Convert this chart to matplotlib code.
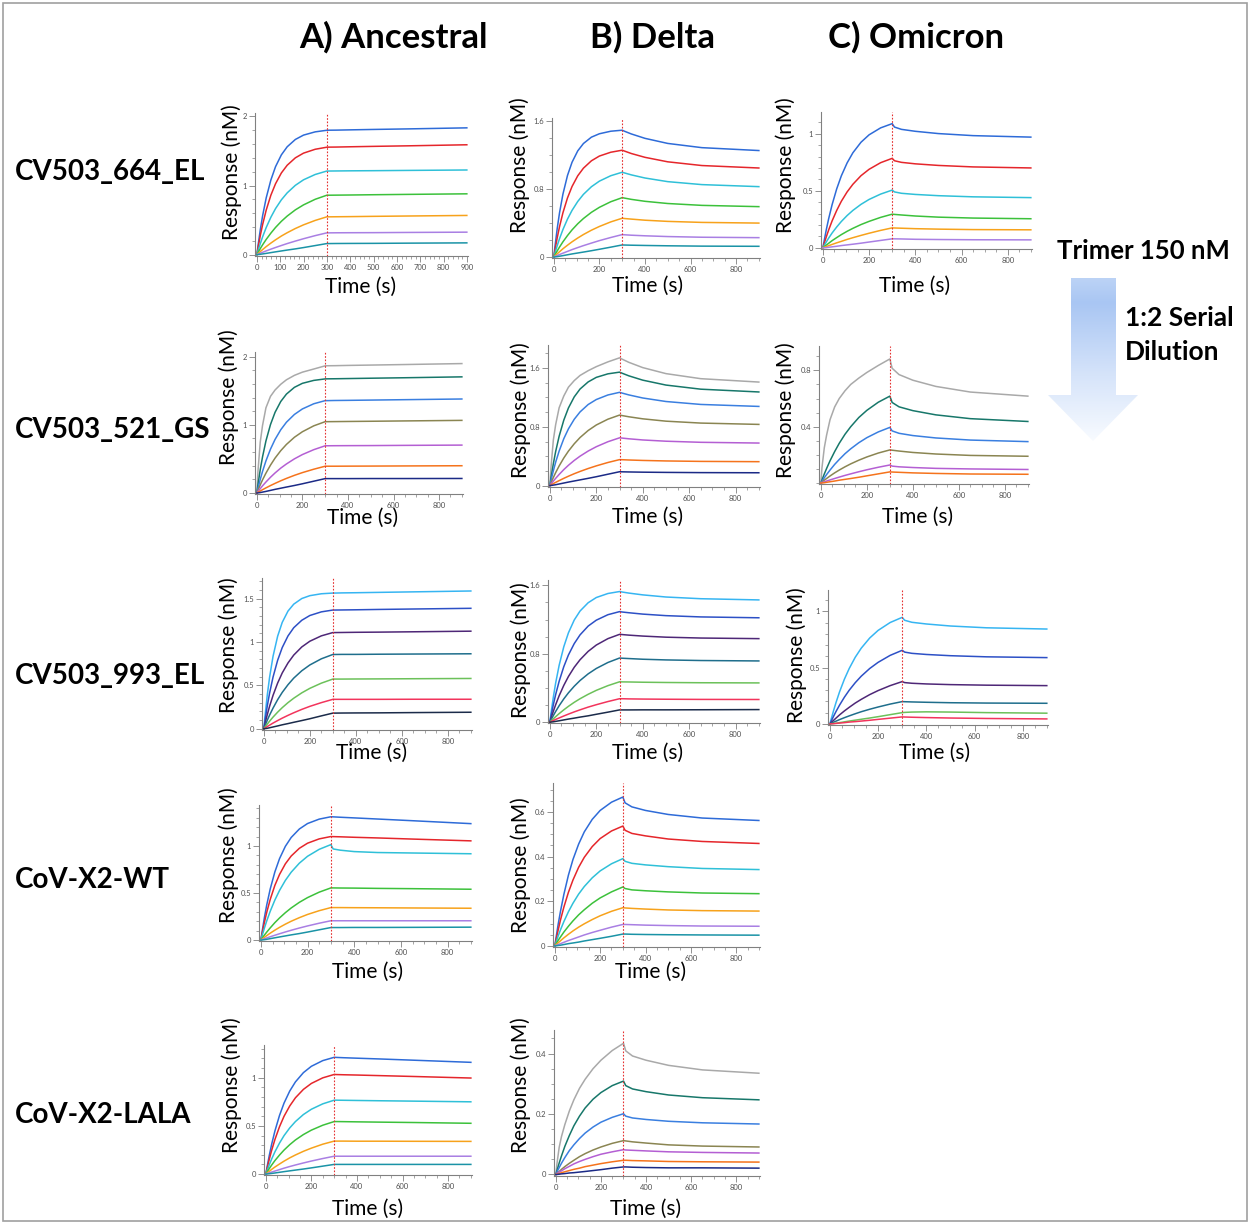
import numpy as np
import matplotlib
matplotlib.use("Agg")
import matplotlib.pyplot as plt
from matplotlib.patches import Polygon, Rectangle
from matplotlib.colors import LinearSegmentedColormap
from matplotlib.ticker import MultipleLocator, FixedLocator, FuncFormatter

plt.rcParams['font.family'] = ['Lato', 'DejaVu Sans']

# %% data  (response in nM)
# association 0-300 s, dissociation 300-900 s
T = [0, 5, 15, 25, 40, 60, 80, 105, 130, 165, 200, 250, 300, 310, 340, 400, 500, 650, 900]

variants = ["A) Ancestral", "B) Delta", "C) Omicron"]
antibodies = ["CV503_664_EL", "CV503_521_GS", "CV503_993_EL", "CoV-X2-WT", "CoV-X2-LALA"]

pal1 = ['#2e6bd8', '#e5262b', '#2fc0d8', '#3cc13b', '#f7a21b', '#a97fe3', '#1a93a6']
pal2 = ['#a9a9a9', '#17776a', '#3a7fe0', '#8a8552', '#b45fd3', '#f5731c', '#1b2a86']
pal3 = ['#36b5f2', '#2d50c6', '#4e2777', '#1f6e8c', '#6cc15a', '#f2345c', '#1b2b4a']

anc_664 = [
    [0, .131, .367, .569, .821, 1.08, 1.273, 1.444, 1.561, 1.667, 1.73, 1.777, 1.80, 1.801, 1.802, 1.806, 1.812, 1.82, 1.835],
    [0, .10, .281, .44, .644, .86, 1.026, 1.182, 1.294, 1.401, 1.469, 1.525, 1.555, 1.556, 1.557, 1.561, 1.567, 1.575, 1.59],
    [0, .057, .163, .261, .392, .541, .666, .793, .894, 1.003, 1.083, 1.16, 1.21, 1.21, 1.211, 1.213, 1.215, 1.219, 1.225],
    [0, .03, .089, .144, .22, .311, .393, .482, .558, .648, .72, .801, .86, .86, .861, .863, .867, .872, .88],
    [0, .015, .045, .074, .116, .167, .214, .269, .317, .378, .431, .495, .547, .547, .548, .55, .554, .559, .567],
    [0, .007, .021, .034, .054, .079, .103, .132, .16, .196, .23, .275, .315, .315, .316, .317, .318, .321, .325],
    [0, .001, .005, .01, .018, .029, .04, .053, .066, .083, .102, .131, .16, .16, .161, .162, .163, .166, .17]]
dlt_664 = [
    [0, .123, .338, .521, .742, .962, 1.118, 1.252, 1.339, 1.414, 1.454, 1.484, 1.496, 1.484, 1.452, 1.40, 1.34, 1.29, 1.256],
    [0, .081, .228, .357, .522, .697, .832, .958, 1.048, 1.135, 1.191, 1.236, 1.26, 1.25, 1.221, 1.176, 1.123, 1.079, 1.05],
    [0, .047, .135, .216, .324, .447, .55, .655, .739, .829, .895, .959, 1.0, .992, .969, .932, .889, .854, .83],
    [0, .025, .072, .117, .179, .253, .32, .392, .454, .527, .586, .652, .70, .695, .68, .657, .631, .609, .594],
    [0, .013, .038, .062, .097, .139, .179, .224, .265, .316, .36, .414, .457, .454, .447, .434, .42, .408, .40],
    [0, .006, .017, .029, .045, .066, .087, .111, .134, .164, .193, .23, .264, .262, .257, .25, .241, .233, .228],
    [0, .001, .004, .009, .016, .026, .036, .047, .058, .074, .091, .116, .142, .141, .139, .136, .132, .128, .126]]
omi_664 = [
    [0, .055, .16, .254, .378, .517, .631, .744, .833, .925, .99, 1.051, 1.088, 1.058, 1.038, 1.021, 1.001, .983, .97],
    [0, .034, .097, .156, .236, .328, .408, .49, .557, .632, .688, .746, .784, .763, .749, .736, .722, .709, .70],
    [0, .018, .052, .085, .13, .183, .231, .283, .328, .381, .424, .471, .506, .49, .478, .468, .457, .447, .44],
    [0, .008, .024, .04, .063, .09, .116, .145, .171, .204, .232, .267, .295, .293, .288, .279, .269, .261, .255],
    [0, .004, .012, .019, .03, .044, .057, .074, .089, .109, .128, .153, .175, .174, .172, .168, .164, .16, .158],
    [0, 0, .002, .005, .009, .014, .02, .026, .032, .041, .051, .065, .079, .079, .078, .075, .073, .071, .07]]

anc_521 = [
    [0, .317, .747, .99, 1.251, 1.419, 1.512, 1.596, 1.662, 1.727, 1.774, 1.82, 1.867, 1.868, 1.869, 1.873, 1.878, 1.886, 1.90],
    [0, .122, .342, .529, .764, 1.005, 1.184, 1.343, 1.452, 1.551, 1.61, 1.653, 1.675, 1.676, 1.677, 1.68, 1.685, 1.692, 1.705],
    [0, .069, .199, .316, .471, .644, .786, .928, 1.039, 1.153, 1.234, 1.31, 1.356, 1.356, 1.358, 1.36, 1.364, 1.37, 1.38],
    [0, .041, .119, .192, .291, .409, .512, .621, .713, .818, .899, .986, 1.047, 1.047, 1.048, 1.05, 1.053, 1.058, 1.066],
    [0, .022, .064, .105, .161, .231, .294, .365, .426, .501, .564, .636, .693, .693, .694, .695, .696, .699, .703],
    [0, .01, .029, .048, .075, .109, .141, .179, .214, .259, .299, .349, .393, .393, .393, .394, .395, .397, .40],
    [0, .001, .006, .013, .023, .038, .053, .07, .087, .11, .135, .173, .211, .211, .211, .211, .212, .212, .213]]
dlt_521 = [
    [0, .25, .62, .83, 1.06, 1.22, 1.34, 1.43, 1.50, 1.565, 1.62, 1.685, 1.74, 1.724, 1.679, 1.607, 1.525, 1.456, 1.41],
    [0, .107, .297, .464, .672, .891, 1.057, 1.208, 1.315, 1.412, 1.474, 1.522, 1.545, 1.532, 1.495, 1.436, 1.369, 1.313, 1.275],
    [0, .071, .201, .318, .47, .638, .772, .903, 1.003, 1.104, 1.172, 1.234, 1.27, 1.261, 1.235, 1.193, 1.145, 1.105, 1.078],
    [0, .037, .109, .176, .267, .375, .469, .569, .654, .75, .825, .904, .96, .954, .937, .909, .877, .851, .833],
    [0, .021, .06, .098, .151, .217, .276, .342, .40, .47, .529, .597, .65, .647, .637, .621, .604, .589, .579],
    [0, .009, .026, .043, .067, .098, .127, .161, .192, .232, .268, .314, .353, .352, .348, .342, .335, .329, .325],
    [0, .001, .006, .011, .021, .034, .047, .062, .077, .098, .12, .154, .188, .187, .185, .182, .179, .176, .174]]
omi_521 = [
    [0, .11, .25, .34, .45, .54, .60, .655, .70, .745, .785, .835, .881, .815, .77, .73, .686, .646, .617],
    [0, .022, .064, .103, .158, .223, .282, .346, .40, .465, .516, .574, .617, .572, .541, .514, .484, .457, .437],
    [0, .013, .037, .06, .092, .132, .167, .208, .243, .286, .322, .363, .395, .37, .353, .337, .32, .305, .294],
    [0, .007, .02, .032, .05, .072, .092, .115, .136, .162, .185, .213, .235, .233, .227, .217, .206, .196, .19],
    [0, .003, .008, .014, .022, .032, .042, .054, .065, .08, .094, .112, .128, .12, .115, .11, .104, .10, .096],
    [0, 0, .002, .005, .009, .014, .02, .026, .032, .041, .051, .065, .079, .078, .076, .072, .068, .064, .062]]

anc_993 = [
    [0, .143, .39, .594, .836, 1.068, 1.228, 1.358, 1.438, 1.503, 1.536, 1.558, 1.566, 1.566, 1.568, 1.57, 1.574, 1.58, 1.59],
    [0, .095, .263, .411, .596, .79, .937, 1.071, 1.166, 1.252, 1.307, 1.349, 1.37, 1.37, 1.371, 1.373, 1.377, 1.382, 1.39],
    [0, .057, .163, .259, .385, .527, .644, .759, .85, .944, 1.01, 1.072, 1.11, 1.11, 1.111, 1.113, 1.115, 1.119, 1.126],
    [0, .033, .098, .157, .238, .335, .419, .508, .584, .669, .736, .807, .857, .857, .858, .858, .86, .862, .865],
    [0, .018, .053, .087, .134, .191, .243, .301, .352, .414, .466, .526, .573, .573, .573, .574, .575, .577, .58],
    [0, .008, .025, .041, .065, .094, .122, .154, .184, .223, .258, .301, .339, .339, .339, .339, .339, .34, .34],
    [0, .001, .005, .011, .02, .032, .045, .059, .074, .094, .115, .148, .18, .18, .181, .182, .183, .186, .19]]
dlt_993 = [
    [0, .105, .293, .458, .665, .882, 1.045, 1.195, 1.30, 1.397, 1.458, 1.505, 1.528, 1.523, 1.51, 1.489, 1.464, 1.444, 1.43],
    [0, .072, .204, .323, .478, .649, .786, .919, 1.021, 1.124, 1.193, 1.257, 1.293, 1.289, 1.28, 1.264, 1.246, 1.231, 1.221],
    [0, .044, .127, .204, .309, .43, .534, .642, .73, .828, .902, .977, 1.027, 1.025, 1.018, 1.007, .994, .984, .977],
    [0, .026, .077, .125, .192, .272, .343, .42, .487, .565, .628, .698, .75, .748, .744, .736, .728, .721, .716],
    [0, .013, .039, .064, .10, .144, .185, .232, .274, .326, .372, .427, .472, .471, .47, .467, .464, .461, .459],
    [0, .007, .019, .032, .049, .072, .094, .12, .144, .176, .204, .241, .274, .274, .272, .27, .268, .266, .265],
    [0, .001, .004, .009, .016, .026, .036, .047, .059, .074, .092, .117, .143, .143, .143, .144, .144, .145, .147]]
omi_993 = [
    [0, .041, .117, .188, .285, .397, .492, .592, .673, .763, .831, .901, .947, .921, .903, .888, .87, .854, .843],
    [0, .023, .067, .109, .167, .237, .299, .366, .424, .492, .547, .609, .654, .638, .627, .617, .606, .596, .589],
    [0, .011, .031, .051, .08, .115, .147, .185, .218, .26, .296, .34, .376, .367, .361, .355, .349, .344, .34],
    [0, .005, .015, .024, .038, .055, .071, .09, .108, .13, .15, .176, .198, .197, .195, .192, .188, .185, .183],
    [0, .001, .003, .006, .011, .018, .025, .033, .041, .052, .064, .082, .10, .102, .105, .107, .105, .10, .095],
    [0, 0, .002, .004, .007, .011, .016, .02, .025, .032, .04, .051, .062, .061, .059, .056, .052, .048, .044]]

anc_wt = [
    [0, .084, .237, .371, .542, .724, .865, .996, 1.09, 1.18, 1.238, 1.285, 1.31, 1.309, 1.305, 1.298, 1.286, 1.268, 1.237],
    [0, .066, .186, .293, .431, .581, .697, .81, .893, .975, 1.029, 1.075, 1.10, 1.099, 1.097, 1.092, 1.085, 1.073, 1.054],
    [0, .044, .126, .202, .305, .425, .527, .634, .721, .817, .89, .964, 1.014, .968, .955, .94, .93, .925, .917],
    [0, .018, .052, .084, .129, .185, .235, .291, .341, .401, .451, .509, .554, .554, .553, .552, .549, .546, .54],
    [0, .01, .029, .047, .073, .105, .135, .169, .20, .238, .272, .312, .345, .345, .345, .344, .343, .341, .338],
    [0, .005, .014, .022, .035, .051, .067, .086, .104, .128, .15, .179, .205, .205, .205, .205, .205, .205, .205],
    [0, .001, .004, .008, .015, .024, .033, .044, .055, .069, .085, .109, .133, .133, .133, .134, .134, .135, .137]]
dlt_wt = [
    [0, .034, .098, .155, .231, .317, .387, .456, .511, .567, .607, .644, .667, .641, .623, .607, .589, .573, .562],
    [0, .025, .072, .116, .174, .24, .295, .352, .397, .445, .481, .515, .537, .518, .504, .493, .479, .468, .459],
    [0, .015, .045, .072, .109, .153, .191, .232, .266, .305, .336, .368, .391, .379, .37, .363, .355, .347, .342],
    [0, .008, .025, .04, .062, .088, .112, .139, .162, .191, .215, .242, .264, .257, .251, .247, .242, .237, .234],
    [0, .005, .014, .023, .036, .052, .067, .084, .099, .118, .135, .155, .171, .17, .168, .165, .161, .158, .156],
    [0, .002, .006, .01, .016, .024, .031, .04, .049, .06, .07, .084, .096, .096, .095, .093, .091, .089, .088],
    [0, 0, .002, .003, .006, .01, .013, .017, .022, .028, .034, .043, .053, .053, .052, .051, .05, .049, .048]]

anc_lala = [
    [0, .068, .191, .303, .448, .608, .737, .862, .957, 1.053, 1.119, 1.178, 1.212, 1.211, 1.208, 1.203, 1.195, 1.182, 1.16],
    [0, .053, .152, .241, .359, .491, .60, .707, .792, .879, .941, .999, 1.034, 1.033, 1.031, 1.028, 1.022, 1.013, .997],
    [0, .033, .095, .153, .231, .321, .399, .479, .545, .618, .673, .729, .767, .767, .766, .764, .761, .757, .75],
    [0, .019, .056, .091, .14, .197, .249, .305, .354, .41, .456, .507, .545, .545, .544, .542, .539, .535, .527],
    [0, .01, .028, .047, .073, .104, .134, .168, .198, .236, .269, .31, .342, .342, .342, .341, .341, .34, .339],
    [0, .004, .012, .02, .031, .046, .061, .078, .094, .115, .135, .161, .185, .185, .185, .185, .185, .185, .185],
    [0, .001, .003, .006, .011, .018, .025, .033, .041, .052, .064, .082, .10, .10, .10, .10, .10, .10, .10]]
dlt_lala = [
    [0, .035, .09, .125, .165, .21, .247, .285, .315, .35, .378, .41, .434, .409, .392, .378, .361, .346, .335],
    [0, .013, .038, .061, .093, .129, .161, .193, .22, .249, .271, .294, .309, .294, .283, .274, .263, .254, .247],
    [0, .008, .023, .037, .056, .079, .098, .119, .137, .157, .173, .189, .201, .193, .187, .182, .176, .171, .167],
    [0, .004, .01, .017, .026, .037, .047, .059, .069, .081, .091, .103, .112, .111, .108, .104, .098, .094, .091],
    [0, .003, .008, .012, .019, .027, .035, .043, .05, .059, .067, .075, .082, .081, .08, .078, .075, .073, .071],
    [0, .001, .003, .006, .009, .013, .017, .021, .026, .031, .036, .042, .047, .047, .046, .045, .043, .042, .041],
    [0, 0, .001, .002, .003, .005, .006, .008, .01, .013, .016, .021, .025, .025, .024, .023, .022, .022, .021]]

# %% layout (pixel boxes: left, top, right, bottom), y range, y ticks
W, H = 1250, 1224
panels = [
    # data, palette, box, ylim, yticks, yminor, xmajor, xminor, xlabel pos, ylabel pos
    (anc_664, pal1, (255, 113, 468, 256), (-0.02, 2.05), [0, 1, 2], 0.2, 100, 20, (361, 287), (232, 172)),
    (dlt_664, pal1, (552, 118, 760, 258), (-0.012, 1.64), [0, 0.8, 1.6], 0.2, 200, 50, (648, 286), (520, 165)),
    (omi_664, pal1, (821, 112, 1032, 249), (-0.01, 1.19), [0, 0.5, 1], 0.1, 200, 50, (915, 286), (786, 165)),
    (anc_521, pal2, (255, 352, 463, 494), (-0.015, 2.07), [0, 1, 2], 0.2, 200, 50, (363, 518), (229, 397)),
    (dlt_521, pal2, (548, 345, 760, 487), (-0.02, 1.915), [0, 0.8, 1.6], 0.2, 200, 50, (648, 517), (521, 410)),
    (omi_521, pal2, (819, 346, 1029, 484), (-0.007, 0.973), [0.4, 0.8], 0.1, 200, 50, (918, 517), (786, 410)),
    (anc_993, pal3, (262, 578, 472, 730), (-0.015, 1.74), [0, 0.5, 1, 1.5], 0.1, 200, 50, (372, 753), (229, 645)),
    (dlt_993, pal3, (548, 580, 760, 723), (-0.01, 1.663), [0, 0.8, 1.6], 0.2, 200, 50, (648, 753), (521, 650)),
    (omi_993, pal3, (828, 590, 1048, 725), (-0.01, 1.19), [0, 0.5, 1], 0.1, 200, 50, (935, 753), (797, 655)),
    (anc_wt, pal1, (259, 805, 472, 941), (-0.01, 1.435), [0, 0.5, 1], 0.1, 200, 50, (368, 972), (229, 855)),
    (dlt_wt, pal1, (553, 783, 760, 947), (-0.005, 0.73), [0, 0.2, 0.4, 0.6], 0.05, 200, 50, (651, 972), (521, 865)),
    (anc_lala, pal1, (264, 1045, 472, 1175), (-0.01, 1.34), [0, 0.5, 1], 0.1, 200, 50, (368, 1209), (232, 1085)),
    (dlt_lala, pal2, (554, 1030, 760, 1176), (-0.005, 0.478), [0, 0.2, 0.4], 0.05, 200, 50, (646, 1209), (521, 1085)),
]

# %% plot
fig = plt.figure(figsize=(W / 100, H / 100), dpi=100)

ov = fig.add_axes([0, 0, 1, 1])
ov.axis('off')

# gradient arrow for the dilution series
arrow_xy = [(1071, 278), (1116, 278), (1116, 395), (1138, 395), (1093, 441), (1048, 395), (1071, 395)]
poly = Polygon(arrow_xy, closed=True, facecolor='none', edgecolor='none')
ov.add_patch(poly)
cmap = LinearSegmentedColormap.from_list('arr', [(0, '#bcd3f6'), (0.15, '#a9c6f3'), (0.6, '#d6e4fa'), (1, '#f8fbff')])
grad = np.linspace(0, 1, 256).reshape(-1, 1)
im = ov.imshow(grad, extent=(1048, 1138, 441, 278), cmap=cmap, aspect='auto', interpolation='bilinear')
im.set_clip_path(poly)

ov.add_patch(Rectangle((3, 3), 1244, 1218, fill=False, edgecolor='#a0a0a0', lw=1.2))
ov.set_xlim(0, W)
ov.set_ylim(H, 0)

for name, xc in zip(variants, [393, 653, 916]):
    ov.text(xc, 37, name, ha='center', va='center', fontsize=25, fontweight='bold')
for name, yc in zip(antibodies, [172, 430, 676, 880, 1115]):
    ov.text(15, yc, name, ha='left', va='center', fontsize=20, fontweight='bold')

ov.text(1143, 251, "Trimer 150 nM", ha='center', va='center', fontsize=18.5, fontweight='bold')
ov.text(1125, 318, "1:2 Serial", ha='left', va='center', fontsize=19, fontweight='bold')
ov.text(1125, 352, "Dilution", ha='left', va='center', fontsize=19, fontweight='bold')

fmt = FuncFormatter(lambda v, p: f"{v:g}")

for data, pal, box, ylim, yt, ymin, xmaj, xmin, xlab, ylab in panels:
    l, t, r, b = box
    ax = fig.add_axes([l / W, 1 - b / H, (r - l) / W, (b - t) / H])
    for y, c in zip(data, pal):
        ax.plot(T, y, color=c, lw=1.1)
    ax.axvline(300, color='#e53030', lw=0.8, ls=(0, (1.5, 1.5)))
    ax.set_xlim(-8, 905)
    ax.set_ylim(*ylim)
    for s in ['top', 'right']:
        ax.spines[s].set_visible(False)
    for s in ['left', 'bottom']:
        ax.spines[s].set_color('#808080')
        ax.spines[s].set_linewidth(0.8)
    ax.xaxis.set_major_locator(MultipleLocator(xmaj))
    ax.xaxis.set_minor_locator(MultipleLocator(xmin))
    ax.yaxis.set_major_locator(FixedLocator(yt))
    ax.yaxis.set_minor_locator(MultipleLocator(ymin))
    ax.xaxis.set_major_formatter(fmt)
    ax.yaxis.set_major_formatter(fmt)
    ax.tick_params(which='major', length=4, width=0.6, color='#808080',
                   labelsize=5.5, labelcolor='#505050', pad=1.5)
    ax.tick_params(which='minor', length=2.5, width=0.5, color='#808080')
    ax.patch.set_alpha(0)
    ov.text(xlab[0], xlab[1], "Time (s)", ha='center', va='center', fontsize=15)
    ov.text(ylab[0], ylab[1], "Response (nM)", ha='center', va='center', fontsize=15, rotation=90)

fig.savefig("out.png", dpi=100)
